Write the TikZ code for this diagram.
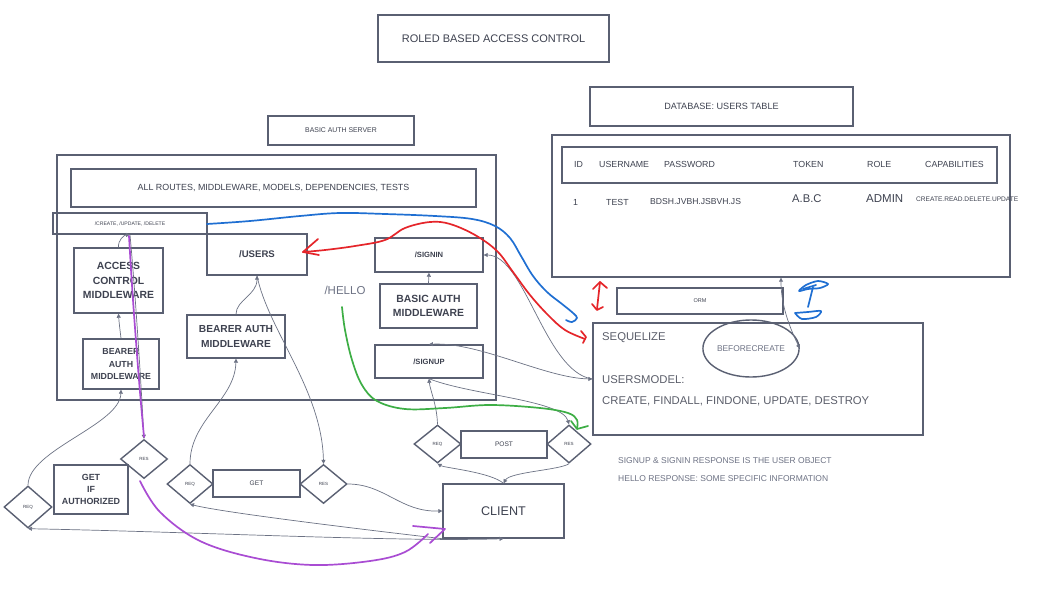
\documentclass[tikz,border=0pt]{standalone}
\usepackage{fontspec}
\setmainfont{Liberation Sans}
\usetikzlibrary{shapes.geometric,arrows.meta}
\definecolor{edge}{HTML}{5A6072}
\definecolor{ink}{HTML}{3E4250}
\definecolor{soft}{HTML}{6E7385}
\definecolor{wire}{HTML}{6C7284}
\definecolor{penred}{HTML}{E5252A}
\definecolor{penblue}{HTML}{1F6FD2}
\definecolor{pengreen}{HTML}{3DAE45}
\definecolor{penpurple}{HTML}{A94CD3}
\tikzset{
  box/.style={draw=edge, line width=1.4pt, rectangle, inner sep=0pt, align=center, text=ink},
  rhomb/.style={draw=edge, line width=1.4pt, diamond, inner sep=0pt, text=ink, font=\fs{4.5}},
  conn/.style={draw=wire, line width=0.7pt, -{Triangle[length=4pt,width=4pt]}},
  biconn/.style={draw=wire, line width=0.7pt, {Triangle[length=4pt,width=4pt]}-{Triangle[length=4pt,width=4pt]}},
  pen/.style={line width=1.7pt, line cap=round, line join=round},
}
% font size with a given line spacing factor (in tenths)
\newcommand{\fs}[1]{\fontsize{#1pt}{\dimexpr #1pt*6/5\relax}\selectfont}
\newcommand{\fsl}[2]{\fontsize{#1pt}{\dimexpr #1pt*#2/10\relax}\selectfont}
\begin{document}
\begin{tikzpicture}[x=1pt,y=-1pt]
\useasboundingbox[fill=white] (0,0) rectangle (1038,591);

% header boxes
\node[box, minimum width=231, minimum height=47, font=\fs{11}] (title) at (493.5,38.5) {ROLED BASED ACCESS CONTROL};
\node[box, minimum width=263, minimum height=39, font=\fs{9.1}] (dbtitle) at (721.5,106.5) {DATABASE: USERS TABLE};
\node[box, minimum width=146, minimum height=29, font=\fs{6.9}] (srvtitle) at (341,130.5) {BASIC AUTH SERVER};

% server
\node[box, minimum width=439, minimum height=245] (server) at (276.5,277.5) {};
\node[box, minimum width=405, minimum height=38, font=\fs{8.9}] (allroutes) at (273.5,188) {ALL ROUTES, MIDDLEWARE, MODELS, DEPENDENCIES, TESTS};
\node[box, minimum width=154, minimum height=21, font=\fs{5.1}] (create) at (130,223.5) {/CREATE, /UPDATE, /DELETE};
\node[box, minimum width=100, minimum height=41, font=\bfseries\fs{9.6}] (users) at (257,254.5) {/USERS};
\node[box, minimum width=89, minimum height=65, font=\bfseries\fsl{10.4}{14}] (acm) at (118.5,280.5) {ACCESS\\CONTROL\\MIDDLEWARE};
\node[box, minimum width=76, minimum height=50, font=\bfseries\fsl{8.8}{14}] (bam1) at (121,364) {BEARER\\AUTH\\MIDDLEWARE};
\node[box, minimum width=98, minimum height=43, font=\bfseries\fsl{10.2}{14}] (bam2) at (236,336.5) {BEARER AUTH\\MIDDLEWARE};
\node[box, minimum width=108, minimum height=34, font=\bfseries\fs{7.6}] (signin) at (429,255) {/SIGNIN};
\node[box, minimum width=97, minimum height=44, font=\bfseries\fsl{10.4}{13}] (basic) at (428.5,306) {BASIC AUTH\\MIDDLEWARE};
\node[box, minimum width=108, minimum height=33, font=\bfseries\fs{7.6}] (signup) at (429,361.5) {/SIGNUP};
\node[text=soft, font=\fs{11.5}] (hello) at (345,290) {/HELLO};

% database table
\node[box, minimum width=458, minimum height=142] (db) at (781,206) {};
\node[box, minimum width=435, minimum height=36] (head) at (779.5,165) {};
\begin{scope}[every node/.style={anchor=west, text=ink, inner sep=0pt, font=\fs{8.8}}]
\node (hid) at (574,164) {ID};
\node (huser) at (599,164) {USERNAME};
\node (hpass) at (664,164) {PASSWORD};
\node (htoken) at (793,164) {TOKEN};
\node (hrole) at (867,164) {ROLE};
\node (hcap) at (925,164) {CAPABILITIES};
\node (vid) at (573,202) {1};
\node (vuser) at (606,202) {TEST};
\node[font=\fs{8.6}] (vpass) at (650,202) {BDSH.JVBH.JSBVH.JS};
\node[font=\fs{11.2}] (vtoken) at (792,199) {A.B.C};
\node[font=\fs{11.5}] (vrole) at (866,199) {ADMIN};
\node[font=\fs{6.6}] (vcap) at (916,199.5) {CREATE.READ.DELETE.UPDATE};
\end{scope}

% orm and sequelize
\node[box, minimum width=166, minimum height=26, font=\fs{5.5}] (orm) at (700,301) {ORM};
\node[box, minimum width=330, minimum height=112] (seq) at (758,379) {};
\begin{scope}[every node/.style={anchor=west, text=ink!85, inner sep=0pt, font=\fs{11.3}}]
\node (seqname) at (602,338) {SEQUELIZE};
\node (model) at (602,380) {USERSMODEL:};
\node (methods) at (602,401) {CREATE, FINDALL, FINDONE, UPDATE, DESTROY};
\end{scope}
\node[draw=edge, line width=1.4pt, ellipse, minimum width=78, minimum height=57, inner sep=0pt, text=soft, font=\fs{8.4}] (hook) at (751,348.5) {BEFORECREATE};

% request / response flow
\node[rhomb, minimum width=48, minimum height=42] (req1) at (28,507) {REQ};
\node[box, minimum width=74, minimum height=49, font=\bfseries\fsl{8.9}{13}] (getauth) at (91,489.5) {GET\\IF\\AUTHORIZED};
\node[rhomb, minimum width=47, minimum height=39] (res1) at (144,459) {RES};
\node[rhomb, minimum width=46, minimum height=39] (req2) at (190,484) {REQ};
\node[box, minimum width=87, minimum height=27, font=\fs{6.6}] (get) at (256.5,483.5) {GET};
\node[rhomb, minimum width=47, minimum height=39] (res2) at (323.5,484) {RES};
\node[rhomb, minimum width=47, minimum height=38] (reqp) at (437.5,444) {REQ};
\node[box, minimum width=86, minimum height=27, font=\fs{6.6}] (post) at (504,444.5) {POST};
\node[rhomb, minimum width=44, minimum height=38] (resp) at (569,444) {RES};
\node[box, minimum width=121, minimum height=54, font=\fs{12.6}] (client) at (503.5,511) {CLIENT};

% notes
\node[anchor=west, inner sep=0pt, text=soft, font=\fs{8.5}] (note1) at (618,461) {SIGNUP \& SIGNIN RESPONSE IS THE USER OBJECT};
\node[anchor=west, inner sep=0pt, text=soft, font=\fs{8.5}] (note2) at (618,479) {HELLO RESPONSE: SOME SPECIFIC INFORMATION};

% connectors
\draw[conn] (req1.north) .. controls (28,450) and (120,425) .. (bam1.south);
\draw[conn] (bam1.north) .. controls (120,330) and (119,322) .. (acm.south);
\draw[conn] (acm.north) .. controls (118,240) and (124,235) .. (create.south);
\draw[conn] (create.south) .. controls (136,300) and (142,400) .. (res1.north);
\draw[conn] (req2.north) .. controls (190,420) and (235,400) .. (bam2.south);
\draw[conn] (bam2.north) .. controls (236,300) and (257,295) .. (users.south);
\draw[conn] (users.south) .. controls (268,330) and (322,390) .. (res2.north);
\draw[conn] (res2.east) .. controls (385,484) and (400,512) .. (client.west);
\draw[biconn] (client.south) .. controls (400,542) and (200,532) .. (req1.south);
\draw[conn] (client.south west) .. controls (350,528) and (220,512) .. (req2.south);
\draw[conn] (reqp.north) .. controls (437,405) and (430,390) .. (signup.south);
\draw[conn] (client.north) .. controls (490,472) and (445,468) .. (reqp.south);
\draw[conn] (resp.south) .. controls (560,470) and (510,472) .. (client.north);
\draw[conn] (signup.south) .. controls (470,395) and (562,400) .. (resp.north);
\draw[conn] (basic.north) -- (signin.south);
\draw[biconn] (signup.north) .. controls (480,342) and (545,378) .. (seq.west);
\draw[conn] (seq.west) .. controls (545,372) and (525,255) .. (signin.east);
\draw[biconn] (hook.east) .. controls (786,320) and (781,300) .. (db.south);

% hand-drawn marks
\draw[pen, penpurple] plot[smooth, tension=0.6] coordinates {(129,236) (133,300) (139,380) (144,437)};
\draw[pen, penpurple] plot[smooth, tension=0.6] coordinates {(140,481) (160,512) (200,541) (255,558) (313,565) (370,561) (405,552) (428,534)};
\draw[pen, penpurple] (413,526) -- (445,529) -- (430,543);

\draw[pen, penblue] plot[smooth, tension=0.6] coordinates {(207,224) (250,221) (300,216) (340,213) (385,214) (435,216) (472,219) (495,226) (510,238) (521,256) (533,276) (547,292) (562,304) (573,313) (577,318) (572,322) (566,320)};

\draw[pen, penred] plot[smooth, tension=0.6] coordinates {(585,339) (565,330) (548,315) (530,295) (513,272) (497,251) (475,235) (450,224) (430,222) (405,228) (385,240) (355,246) (325,250) (303,252)};
\draw[pen, penred] (318,239) -- (303,252) -- (319,255);
\draw[pen, penred] (581,331) -- (586,337) -- (583,343);

\draw[pen, pengreen] plot[smooth, tension=0.6] coordinates {(342,307) (345,330) (352,360) (362,385) (377,401) (405,409) (445,408) (490,405) (540,408) (568,413) (577,420) (577,428)};
\draw[pen, pengreen] (571,421) -- (577,429) -- (588,426);

\draw[pen, penred] (600,282) -- (597,309);
\draw[pen, penred] (593,289) -- (600,282) -- (607,288);
\draw[pen, penred] (592,304) -- (597,310) -- (603,307);

% blue scribble: cap, stem and bowl
\draw[pen, penblue] (813,287) -- (808,307);
\draw[pen, penblue] plot[smooth cycle, tension=0.5] coordinates {(799,291) (806,285) (818,281) (828,284) (820,288) (808,289)};
\draw[pen, penblue] (803,289) -- (816,285);
\draw[pen, penblue] plot[smooth, tension=0.5] coordinates {(795,313) (808,312) (821,311) (816,317) (802,319) (795,313)};
\end{tikzpicture}
\end{document}
